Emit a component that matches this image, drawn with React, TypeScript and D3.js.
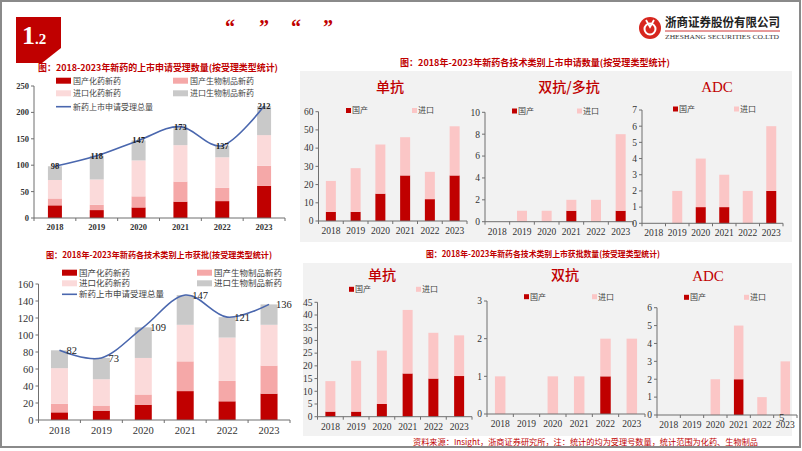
import React from 'react';
import * as d3 from 'd3';

const years = ['2018', '2019', '2020', '2021', '2022', '2023'];

// Left-top: 新药的上市申请受理数量
const appDomChem = [24, 15, 20, 31, 32, 61];
const appDomBio = [13, 10, 21, 38, 25, 38];
const appImpChem = [35, 48, 68, 69, 58, 58];
const appImpBio = [26, 45, 38, 35, 22, 55];
const appTotal = [98, 118, 147, 173, 137, 212];

// Left-bottom: 上市获批
const apvDomChem = [9, 11, 18, 34, 22, 31];
const apvDomBio = [10, 6, 12, 35, 24, 33];
const apvImpChem = [42, 31, 43, 43, 51, 48];
const apvImpBio = [21, 25, 36, 35, 24, 24];
const apvTotal = [82, 73, 109, 147, 121, 136];

// Right-top: 申请数量 by technology
const appMabDom = [5, 5, 15, 25, 12, 25];
const appMabImp = [17, 24, 27, 21, 15, 27];
const appBsDom = [0, 0, 0, 1, 0, 1];
const appBsImp = [0, 1, 1, 1, 2, 7];
const appAdcDom = [0, 0, 1, 1, 0, 2];
const appAdcImp = [0, 2, 3, 2, 2, 4];

// Right-bottom: 获批数量 by technology
const apvMabDom = [2, 2, 5, 17, 15, 16];
const apvMabImp = [12, 20, 21, 25, 18, 16];
const apvBsDom = [0, 0, 0, 0, 1, 0];
const apvBsImp = [1, 0, 1, 1, 1, 2];
const apvAdcDom = [0, 0, 0, 2, 0, 0];
const apvAdcImp = [0, 0, 2, 3, 1, 3];

const legendMain = ['国产化药新药', '国产生物制品新药', '进口化药新药', '进口生物制品新药'];
const legendLine = '新药上市申请受理总量';
const legendSub = ['国产', '进口'];

const RED = '#C00000';
const C_DOMBIO = '#F5A8A8';
const C_IMPCHEM = '#FBDADA';
const C_IMPBIO = '#C9C9C9';
const C_IMP = '#FBC6C6';
const LINE = '#4A67AE';
const AXIS = '#6F6F6F';
const SERIF = '"Liberation Serif", "Times New Roman", serif';
const CJK = '"Noto Sans CJK SC", "Liberation Serif", sans-serif';

type ChartProps = {
  x0: number; x1: number; yB: number; yT: number; max: number; step: number;
  series: number[][]; colors: string[]; barW: number; fs: number; fw?: string;
  total?: number[]; labelMode?: 'center' | 'right'; labelFs?: number; labelFw?: string;
  yearDy?: number;
};

function StackChart(p: ChartProps) {
  const x = d3.scaleBand<string>().domain(years).range([p.x0, p.x1]);
  const y = d3.scaleLinear().domain([0, p.max]).range([p.yB, p.yT]);
  const keys = p.series.map((_, k) => 's' + k);
  const rows = years.map((yr, i) => {
    const o: any = { year: yr };
    p.series.forEach((s, k) => (o['s' + k] = s[i]));
    return o;
  });
  const stacked = d3.stack<any>().keys(keys)(rows);
  const ticks = d3.range(0, p.max + p.step / 2, p.step);
  const cx = (yr: string) => (x(yr) as number) + x.bandwidth() / 2;
  const line = d3
    .line<number>()
    .x((_, i) => cx(years[i]))
    .y((v) => y(v))
    .curve(d3.curveCardinal.tension(0));
  const bounds = d3.range(0, years.length + 1).map((i) => p.x0 + i * x.bandwidth());
  return (
    <g>
      {stacked.map((layer, k) => (
        <g key={k} fill={p.colors[k]}>
          {layer.map((d, i) =>
            d[1] - d[0] > 0 ? (
              <rect key={i} x={cx(years[i]) - p.barW / 2} y={y(d[1])} width={p.barW} height={y(d[0]) - y(d[1])} />
            ) : null
          )}
        </g>
      ))}
      <line x1={p.x0} x2={p.x0} y1={p.yT} y2={p.yB} stroke={AXIS} strokeWidth={1} />
      <line x1={p.x0} x2={p.x1} y1={p.yB} y2={p.yB} stroke={AXIS} strokeWidth={1} />
      {ticks.map((t) => (
        <g key={t}>
          <line x1={p.x0 - 3} x2={p.x0} y1={y(t)} y2={y(t)} stroke={AXIS} />
          <text x={p.x0 - 5} y={y(t)} dy="0.35em" textAnchor="end" fontSize={p.fs} fontWeight={p.fw || 'normal'} fontFamily={SERIF} fill="#333">
            {t}
          </text>
        </g>
      ))}
      {bounds.map((b, i) => (
        <line key={i} x1={b} x2={b} y1={p.yB} y2={p.yB + 3} stroke={AXIS} />
      ))}
      {years.map((yr) => (
        <text key={yr} x={cx(yr)} y={p.yB + (p.yearDy || 13)} textAnchor="middle" fontSize={p.fs} fontWeight={p.fw || 'normal'} fontFamily={SERIF} fill="#333">
          {yr}
        </text>
      ))}
      {p.total && <path d={line(p.total) || ''} fill="none" stroke={LINE} strokeWidth={1.6} />}
      {p.total &&
        p.total.map((v, i) => (
          <text
            key={i}
            x={p.labelMode === 'right' ? cx(years[i]) + 7 : cx(years[i])}
            y={y(v)}
            dy="0.35em"
            textAnchor={p.labelMode === 'right' ? 'start' : 'middle'}
            fontSize={p.labelFs || 9}
            fontWeight={p.labelFw || 'normal'}
            fontFamily={SERIF}
            fill="#222"
          >
            {v}
          </text>
        ))}
    </g>
  );
}

function MainLegend({ x1, x2, ys, sw, fs }: { x1: number; x2: number; ys: number[]; sw: number; fs: number }) {
  const cols = [RED, C_DOMBIO, C_IMPCHEM, C_IMPBIO];
  const items = legendMain.map((t, i) => ({ t, c: cols[i], x: i % 2 === 0 ? x1 : x2, y: ys[Math.floor(i / 2)] }));
  return (
    <g fontFamily={CJK} fontSize={fs} fill="#444">
      {items.map((it, i) => (
        <g key={i}>
          <rect x={it.x} y={it.y - 3} width={sw} height={6} fill={it.c} />
          <text x={it.x + sw + 2} y={it.y} dy="0.35em">{it.t}</text>
        </g>
      ))}
      <line x1={x1} x2={x1 + sw} y1={ys[2]} y2={ys[2]} stroke={LINE} strokeWidth={1.6} />
      <text x={x1 + sw + 2} y={ys[2]} dy="0.35em">{legendLine}</text>
    </g>
  );
}

function SubLegend({ xa, xb, y }: { xa: number; xb: number; y: number }) {
  return (
    <g fontFamily={CJK} fontSize={8} fill="#444">
      <rect x={xa} y={y - 2.5} width={5} height={5} fill={RED} />
      <text x={xa + 6} y={y} dy="0.35em">{legendSub[0]}</text>
      <rect x={xb} y={y - 2.5} width={5} height={5} fill={C_IMP} />
      <text x={xb + 6} y={y} dy="0.35em">{legendSub[1]}</text>
    </g>
  );
}

function SubTitle({ x, y, t, serif }: { x: number; y: number; t: string; serif?: boolean }) {
  return (
    <text x={x} y={y} dy="0.35em" textAnchor="middle" fontSize={serif ? 15 : 14} fontWeight={500} fontFamily={serif ? SERIF : CJK} fill={RED}>
      {t}
    </text>
  );
}

export default function App() {
  return (
    <svg width={802} height={451} style={{ position: 'absolute', left: 0, top: 0 }}>
      <rect x={0} y={0} width={802} height={451} fill="#fff" />
      <rect x={1} y={1} width={799} height={446} fill="none" stroke="#8a8a8a" strokeWidth={2} />

      {/* header */}
      <polygon points="16,17 61,17 61,48 42,63 16,63" fill={RED} />
      <text x={22} y={44} fontFamily={SERIF} fontWeight="bold" fill="#fff">
        <tspan fontSize={26}>1</tspan>
        <tspan fontSize={15}>.2</tspan>
      </text>
      {[
        ['“', 230],
        ['”', 264],
        ['“', 296],
        ['”', 328],
      ].map(([c, xx], i) => (
        <text key={i} x={xx as number} y={34} fontSize={20} fontWeight="bold" fontFamily={SERIF} fill={RED} textAnchor="middle">
          {c}
        </text>
      ))}
      {/* logo */}
      <circle cx={650} cy={28} r={11} fill="#D7261E" />
      <circle cx={650} cy={29} r={5.5} fill="none" stroke="#fff" strokeWidth={2} />
      <path d="M646,20 L650,27 L654,20" fill="none" stroke="#fff" strokeWidth={1.8} />
      <text x={665} y={27} fontSize={12.5} fontWeight="bold" fontFamily={CJK} fill="#222" textLength={115} lengthAdjust="spacingAndGlyphs">
        浙商证券股份有限公司
      </text>
      <line x1={665} x2={780} y1={31} y2={31} stroke={RED} strokeWidth={0.8} />
      <text x={665} y={38.5} fontSize={6.5} fontFamily={SERIF} fill="#333" textLength={114} lengthAdjust="spacingAndGlyphs">
        ZHESHANG SECURITIES CO.LTD
      </text>

      {/* left-top chart */}
      <text x={158} y={68} dy="0.35em" textAnchor="middle" fontSize={9} fontWeight="bold" fontFamily={CJK} fill={RED} textLength={240} lengthAdjust="spacingAndGlyphs">
        图：2018-2023年新药的上市申请受理数量(按受理类型统计)
      </text>
      <StackChart
        x0={34} x1={285} yB={218} yT={86} max={250} step={50}
        series={[appDomChem, appDomBio, appImpChem, appImpBio]}
        colors={[RED, C_DOMBIO, C_IMPCHEM, C_IMPBIO]}
        barW={14} fs={8.5} fw="bold" total={appTotal} labelMode="center" labelFs={8.5} labelFw="bold" yearDy={12}
      />
      <MainLegend x1={56} x2={173} ys={[80.7, 93.3, 106.7]} sw={15} fs={8} />

      {/* left-bottom chart */}
      <text x={159} y={255} dy="0.35em" textAnchor="middle" fontSize={8.5} fontWeight="bold" fontFamily={CJK} fill={RED} textLength={226} lengthAdjust="spacingAndGlyphs">
        图：2018年-2023年新药各技术类别上市获批(按受理类型统计)
      </text>
      <StackChart
        x0={38.5} x1={290} yB={420} yT={284} max={160} step={20}
        series={[apvDomChem, apvDomBio, apvImpChem, apvImpBio]}
        colors={[RED, C_DOMBIO, C_IMPCHEM, C_IMPBIO]}
        barW={17} fs={10.5} total={apvTotal} labelMode="right" labelFs={10.5} yearDy={14}
      />
      <MainLegend x1={62} x2={197} ys={[272.7, 283.3, 294.3]} sw={15} fs={8.5} />

      {/* right-top panel */}
      <text x={535} y={63} dy="0.35em" textAnchor="middle" fontSize={9} fontWeight="bold" fontFamily={CJK} fill={RED} textLength={270} lengthAdjust="spacingAndGlyphs">
        图：2018年-2023年新药各技术类别上市申请数量(按受理类型统计)
      </text>
      <rect x={300} y={71} width={492} height={171} fill="#F2F2F2" />
      <SubTitle x={390} y={87} t="单抗" />
      <SubTitle x={569} y={87} t="双抗/多抗" />
      <SubTitle x={717} y={87} t="ADC" serif />
      <SubLegend xa={346} xb={412} y={110.5} />
      <SubLegend xa={512} xb={577} y={111} />
      <SubLegend xa={673} xb={734} y={109} />
      <StackChart x0={318.5} x1={467} yB={221} yT={111.7} max={60} step={10} series={[appMabDom, appMabImp]} colors={[RED, C_IMP]} barW={10} fs={9.5} yearDy={13} />
      <StackChart x0={485} x1={633} yB={221.7} yT={112.3} max={10} step={2} series={[appBsDom, appBsImp]} colors={[RED, C_IMP]} barW={10} fs={9.5} yearDy={13} />
      <StackChart x0={642} x1={783} yB={223.3} yT={110} max={7} step={1} series={[appAdcDom, appAdcImp]} colors={[RED, C_IMP]} barW={10} fs={9.5} yearDy={13} />

      {/* right-bottom panel */}
      <text x={543} y={254.5} dy="0.35em" textAnchor="middle" fontSize={8.5} fontWeight="bold" fontFamily={CJK} fill={RED} textLength={234} lengthAdjust="spacingAndGlyphs">
        图：2018年-2023年新药各技术类别上市获批数量(按受理类型统计)
      </text>
      <rect x={303} y={263} width={489} height={173} fill="#F2F2F2" />
      <SubTitle x={382} y={275} t="单抗" />
      <SubTitle x={565} y={275} t="双抗" />
      <SubTitle x={708} y={276} t="ADC" serif />
      <SubLegend xa={349} xb={416} y={289.3} />
      <SubLegend xa={524} xb={592} y={296.7} />
      <SubLegend xa={684} xb={744} y={297.3} />
      <StackChart x0={317.5} x1={472} yB={416.7} yT={302.3} max={45} step={5} series={[apvMabDom, apvMabImp]} colors={[RED, C_IMP]} barW={10} fs={9.5} yearDy={13} />
      <StackChart x0={487} x1={645} yB={414} yT={301} max={3} step={1} series={[apvBsDom, apvBsImp]} colors={[RED, C_IMP]} barW={10.5} fs={9.5} yearDy={13} />
      <StackChart x0={657} x1={797} yB={415} yT={307.7} max={6} step={1} series={[apvAdcDom, apvAdcImp]} colors={[RED, C_IMP]} barW={9.5} fs={9.5} yearDy={13} />

      <text x={779} y={421} fontSize={11} fontFamily={SERIF} fill="#333">5</text>
      <text x={413} y={442} dy="0.35em" fontSize={8} fontFamily={CJK} fill={RED} textLength={345} lengthAdjust="spacingAndGlyphs">
        资料来源：Insight，浙商证券研究所，注：统计的均为受理号数量，统计范围为化药、生物制品
      </text>
    </svg>
  );
}
